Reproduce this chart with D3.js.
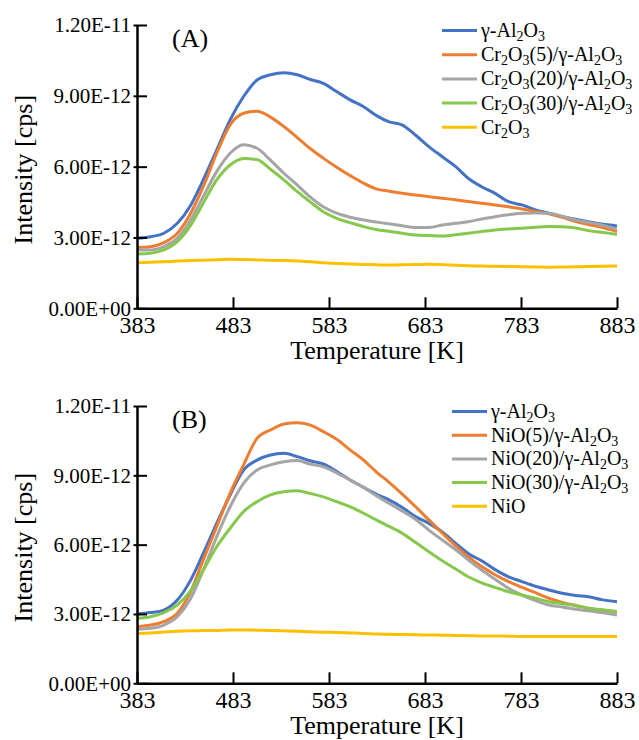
<!DOCTYPE html>
<html>
<head>
<meta charset="utf-8">
<script src="https://cdn.jsdelivr.net/npm/d3@7"></script>
<style>
  body { margin: 0; background: #fff; }
  svg, svg text { font-family: "Liberation Serif", "Times New Roman", serif; }
</style>
</head>
<body>
<script>
// temperature grid [K] shared by every curve
var temps = [383, 397, 411, 425, 438, 452, 466, 480, 494, 508, 522, 536, 550, 563, 577, 591, 605, 619, 633,
             645, 659, 673, 687, 701, 715, 728, 742, 756, 770, 784, 798, 812, 826, 840, 853, 867, 883];

// panel (A), intensity in units of 1E-12 cps
var alA   = [2.97, 3.03, 3.18, 3.6, 4.3, 5.44, 6.7, 7.98, 8.97, 9.67, 9.89, 9.98, 9.89, 9.7, 9.53, 9.18, 8.83, 8.54, 8.15,
             7.91, 7.77, 7.34, 6.85, 6.42, 6.0, 5.51, 5.15, 4.87, 4.52, 4.38, 4.17, 4.03, 3.88, 3.77, 3.67, 3.57, 3.49];
var cr5   = [2.58, 2.61, 2.78, 3.18, 3.95, 5.15, 6.57, 7.77, 8.26, 8.35, 8.1, 7.7, 7.23, 6.78, 6.36, 5.97, 5.62, 5.3, 5.05,
             4.97, 4.87, 4.8, 4.73, 4.66, 4.6, 4.52, 4.45, 4.38, 4.3, 4.21, 4.1, 4.0, 3.85, 3.67, 3.55, 3.43, 3.25];
var cr20  = [2.47, 2.47, 2.61, 2.97, 3.67, 4.73, 5.79, 6.57, 6.93, 6.78, 6.28, 5.72, 5.22, 4.73, 4.3, 4.03, 3.86, 3.74, 3.65,
             3.58, 3.5, 3.42, 3.42, 3.53, 3.6, 3.67, 3.78, 3.88, 3.96, 4.03, 4.04, 4.03, 3.9, 3.74, 3.64, 3.53, 3.35];
var cr30  = [2.3, 2.33, 2.47, 2.82, 3.46, 4.45, 5.44, 6.07, 6.35, 6.3, 5.89, 5.44, 4.94, 4.52, 4.09, 3.81, 3.63, 3.46, 3.33,
             3.26, 3.18, 3.1, 3.08, 3.06, 3.12, 3.18, 3.25, 3.32, 3.36, 3.39, 3.43, 3.46, 3.45, 3.4, 3.29, 3.22, 3.13];
var cr2o3 = [1.93, 1.95, 1.97, 2.0, 2.02, 2.04, 2.06, 2.08, 2.07, 2.05, 2.03, 2.02, 2.0, 1.97, 1.93, 1.9, 1.88, 1.86, 1.84,
             1.83, 1.84, 1.86, 1.87, 1.85, 1.82, 1.8, 1.79, 1.78, 1.77, 1.76, 1.75, 1.74, 1.75, 1.76, 1.77, 1.78, 1.79];

// panel (B)
var alB   = [3.0, 3.06, 3.17, 3.6, 4.4, 5.62, 6.92, 8.15, 9.23, 9.66, 9.88, 9.95, 9.81, 9.63, 9.49, 9.16, 8.8, 8.48, 8.17,
             7.95, 7.62, 7.22, 6.92, 6.55, 6.05, 5.62, 5.3, 4.92, 4.61, 4.4, 4.2, 4.04, 3.9, 3.8, 3.75, 3.62, 3.53];
var ni5   = [2.45, 2.52, 2.67, 3.03, 3.89, 5.34, 6.78, 8.22, 9.45, 10.6, 10.96, 11.22, 11.28, 11.18, 10.89, 10.56, 10.1, 9.66, 9.12,
             8.72, 8.2, 7.65, 7.07, 6.5, 5.95, 5.48, 5.05, 4.7, 4.4, 4.15, 3.92, 3.68, 3.5, 3.37, 3.25, 3.17, 3.1];
var ni20  = [2.34, 2.38, 2.52, 2.88, 3.6, 4.9, 6.34, 7.64, 8.65, 9.23, 9.45, 9.59, 9.64, 9.49, 9.37, 9.11, 8.8, 8.48, 8.1,
             7.8, 7.46, 7.1, 6.63, 6.2, 5.78, 5.34, 4.9, 4.5, 4.11, 3.82, 3.58, 3.39, 3.3, 3.2, 3.14, 3.06, 2.96];
var ni30  = [2.81, 2.88, 3.06, 3.39, 3.96, 4.9, 5.91, 6.71, 7.43, 7.86, 8.15, 8.29, 8.33, 8.22, 8.07, 7.86, 7.64, 7.36, 7.05,
             6.8, 6.5, 6.1, 5.69, 5.3, 4.95, 4.61, 4.35, 4.15, 3.96, 3.82, 3.68, 3.53, 3.44, 3.36, 3.25, 3.18, 3.1];
var nio   = [2.16, 2.18, 2.22, 2.25, 2.27, 2.28, 2.29, 2.31, 2.31, 2.3, 2.29, 2.27, 2.25, 2.23, 2.21, 2.2, 2.18, 2.16, 2.13,
             2.12, 2.11, 2.1, 2.09, 2.08, 2.07, 2.06, 2.05, 2.05, 2.04, 2.03, 2.03, 2.02, 2.02, 2.02, 2.02, 2.03, 2.02];

var namesA = ["γ-Al2O3", "Cr2O3(5)/γ-Al2O3", "Cr2O3(20)/γ-Al2O3", "Cr2O3(30)/γ-Al2O3", "Cr2O3"];
var namesB = ["γ-Al2O3", "NiO(5)/γ-Al2O3", "NiO(20)/γ-Al2O3", "NiO(30)/γ-Al2O3", "NiO"];

// axis ticks
var xTicks = [383, 483, 583, 683, 783, 883];
var yTicks = [0, 3, 6, 9, 12];   // x 1E-12

var colors = ["#4472C4", "#ED7D31", "#A5A5A5", "#86C84C", "#FFC000"];

var serif = "Liberation Serif, Times New Roman, serif";

// ----------------------------------------------------------- //

var width = 639, height = 740;

var svg = d3.select("body").append("svg")
    .attr("width", width)
    .attr("height", height)
    .attr("font-family", serif);

// "9.00E-12" style labels, exponent always two digits
function sciLabel(v) {
  var s = (v * 1e-12).toExponential(2).toUpperCase();
  var parts = s.split("E");
  var sign = parts[1][0];
  var exp = parts[1].slice(1).padStart(2, "0");
  return parts[0] + "E" + sign + exp;
}

// write a chemical name, digits right after a letter go subscript
function chemText(sel, name) {
  var chars = name.split("");
  chars.forEach(function(c, i) {
    var prev = i > 0 ? chars[i - 1] : "";
    var isSub = /[0-9]/.test(c) && /[A-Za-z]/.test(prev);
    var t = sel.append("tspan").text(c);
    if (isSub) t.attr("font-size", 14).attr("dy", 4);
    // come back to the baseline after the subscript
    var afterSub = i > 1 && /[0-9]/.test(prev) && /[A-Za-z]/.test(chars[i - 2]);
    if (!isSub && afterSub) t.attr("dy", -4);
  });
}

// ----------------------------------------------------------- //

function drawPanel(opt) {
  var x = d3.scaleLinear().domain([383, 883]).range([opt.left, opt.right]);
  var y = d3.scaleLinear().domain([0, 12]).range([opt.bottom, opt.top]);

  var g = svg.append("g");

  // curves
  var line = d3.line()
      .x(function(d, i) { return x(temps[i]); })
      .y(function(d) { return y(d); })
      .curve(d3.curveMonotoneX);

  opt.series.forEach(function(s, k) {
    g.append("path")
      .attr("d", line(s))
      .attr("fill", "none")
      .attr("stroke", colors[k])
      .attr("stroke-width", 3)
      .attr("stroke-linejoin", "round");
  });

  // y axis, ticks crossing the line
  var yAxis = d3.axisLeft(y).tickValues(yTicks).tickFormat(sciLabel).tickSizeOuter(0).tickPadding(6);
  var ga = g.append("g").attr("transform", "translate(" + opt.left + ",0)");
  ga.call(yAxis);
  ga.attr("font-family", serif);
  ga.select(".domain").attr("stroke-width", 2.5);
  ga.selectAll(".tick line").attr("x1", -3.5).attr("x2", 10).attr("stroke-width", 2);
  ga.selectAll(".tick text").attr("x", -6)
    .style("font-family", serif).style("font-size", "21px").attr("fill", "#000");

  // x axis, ticks pointing inside
  var xAxis = d3.axisBottom(x).tickValues(xTicks).tickSizeInner(-11).tickSizeOuter(0).tickPadding(8);
  var gx = g.append("g").attr("transform", "translate(0," + opt.bottom + ")");
  gx.call(xAxis);
  gx.attr("font-family", serif);
  gx.select(".domain").attr("stroke-width", 2.5);
  gx.selectAll(".tick line").attr("stroke-width", 2);
  gx.selectAll(".tick text")
    .style("font-family", serif).style("font-size", "24px").attr("fill", "#000");

  // axis titles
  g.append("text")
    .attr("x", (opt.left + opt.right) / 2)
    .attr("y", opt.bottom + 51)
    .attr("text-anchor", "middle")
    .attr("font-size", 26)
    .text("Temperature [K]");

  g.append("text")
    .attr("transform", "translate(32," + ((opt.top + opt.bottom) / 2 + 3) + ") rotate(-90)")
    .attr("text-anchor", "middle")
    .attr("font-size", 26)
    .text("Intensity [cps]");

  // panel letter
  g.append("text")
    .attr("x", 172)
    .attr("y", opt.top + 22)
    .attr("font-size", 26)
    .text(opt.letter);

  // legend
  opt.names.forEach(function(n, k) {
    var ly = opt.legY + k * opt.legStep;
    g.append("line")
      .attr("x1", opt.legX).attr("x2", opt.legX + 35)
      .attr("y1", ly).attr("y2", ly)
      .attr("stroke", colors[k])
      .attr("stroke-width", 3);
    var t = g.append("text")
      .attr("x", opt.legX + 39)
      .attr("y", ly + 6.5)
      .attr("font-size", 20);
    chemText(t, n);
  });
}

drawPanel({
  left: 137, right: 617, top: 25, bottom: 308.3, letter: "(A)",
  series: [alA, cr5, cr20, cr30, cr2o3], names: namesA,
  legX: 442, legY: 30.5, legStep: 24.2
});

drawPanel({
  left: 137, right: 617, top: 406, bottom: 683.3, letter: "(B)",
  series: [alB, ni5, ni20, ni30, nio], names: namesB,
  legX: 452, legY: 411.5, legStep: 23.7
});
</script>
</body>
</html>
